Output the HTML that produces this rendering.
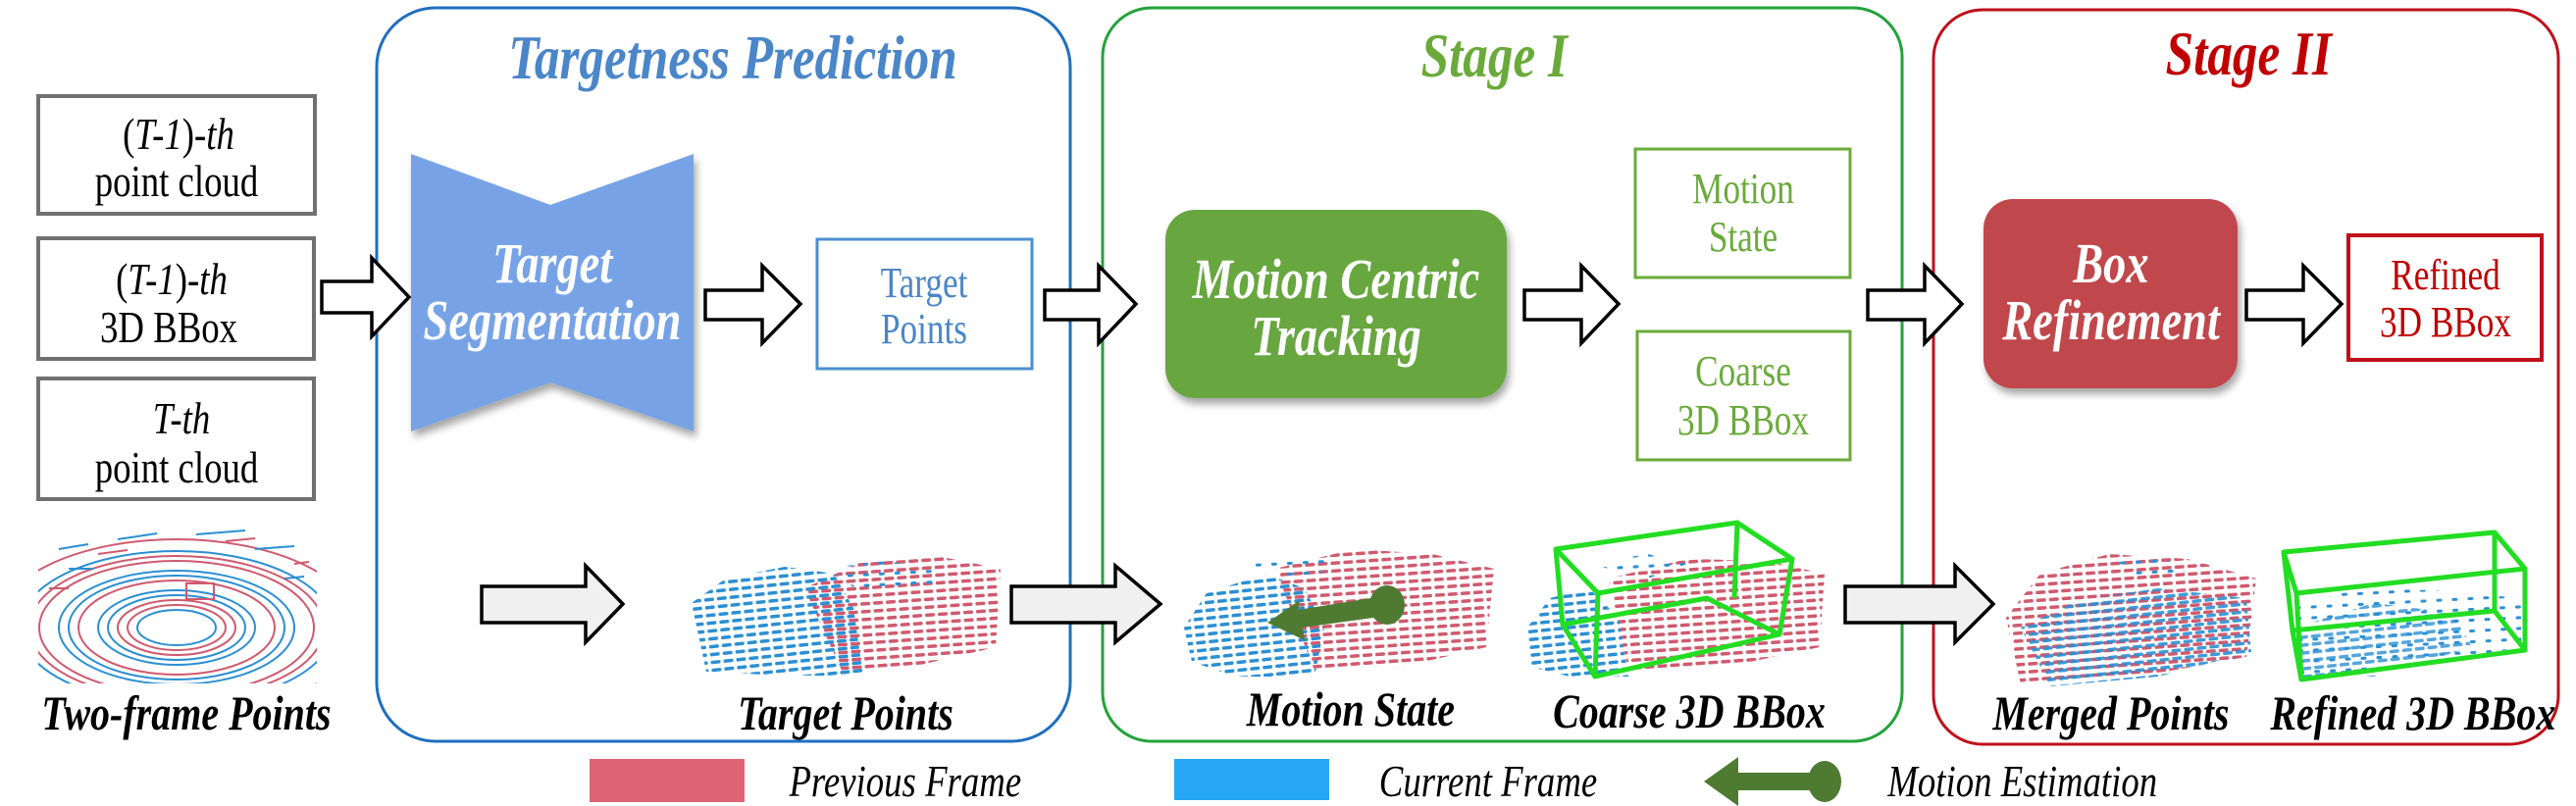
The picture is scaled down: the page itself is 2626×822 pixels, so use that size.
<!DOCTYPE html>
<html><head><meta charset="utf-8"><style>
html,body{margin:0;padding:0;background:#fff;width:2626px;height:822px;overflow:hidden}
svg{display:block}
text{font-family:"Liberation Serif",serif;transform-box:fill-box;transform-origin:center;transform:scaleX(0.8)}
.bi{font-weight:bold;font-style:italic}
</style></head><body>
<svg width="2626" height="822" viewBox="0 0 2626 822" xmlns="http://www.w3.org/2000/svg">
<defs>
<pattern id="pb" width="13" height="8" patternUnits="userSpaceOnUse" patternTransform="rotate(-6)"><rect x="0" y="2" width="10" height="3.5" rx="1.5" fill="#2b8fd3"/></pattern>
<pattern id="pr" width="13" height="8" patternUnits="userSpaceOnUse" patternTransform="rotate(-4)"><rect x="0" y="2" width="10" height="3.5" rx="1.5" fill="#cf5a6e"/></pattern>
<pattern id="pbs" width="16" height="11" patternUnits="userSpaceOnUse" patternTransform="rotate(-3)"><rect x="0" y="3" width="6" height="3" rx="1.5" fill="#2b8fd3"/></pattern>
<filter id="sh" x="-10%" y="-10%" width="130%" height="130%"><feDropShadow dx="3" dy="6" stdDeviation="4" flood-color="#000" flood-opacity="0.35"/></filter>
<clipPath id="c2f"><rect x="39" y="532" width="284" height="165"/></clipPath>
</defs>

<rect x="384" y="8" width="707" height="748" rx="60" fill="none" stroke="#1f6fbf" stroke-width="3"/>
<rect x="1124" y="8" width="815" height="748" rx="50" fill="none" stroke="#22a33a" stroke-width="3"/>
<rect x="1971" y="10" width="637" height="749" rx="50" fill="none" stroke="#c0101a" stroke-width="3"/>

<text x="747" y="80" text-anchor="middle" class="bi" font-size="64" fill="#4a86c8">Targetness Prediction</text>
<text x="1523" y="78" text-anchor="middle" class="bi" font-size="64" fill="#6aaa3a">Stage I</text>
<text x="2292" y="76" text-anchor="middle" class="bi" font-size="64" fill="#c00000">Stage II</text>

<g fill="#fff" stroke="#707070" stroke-width="4">
<rect x="39" y="98" width="282" height="120"/>
<rect x="39" y="243" width="281" height="123"/>
<rect x="39" y="386" width="281" height="123"/>
</g>
<g font-size="46" fill="#000" text-anchor="middle">
<text x="182" y="152">(<tspan font-style="italic">T-1</tspan>)-<tspan font-style="italic">th</tspan></text>
<text x="180" y="200">point cloud</text>
<text x="175" y="300">(<tspan font-style="italic">T-1</tspan>)-<tspan font-style="italic">th</tspan></text>
<text x="172" y="349">3D BBox</text>
<text x="185" y="442" font-style="italic">T-th</text>
<text x="180" y="492">point cloud</text>
</g>

<polygon points="419,157 561,209 707,157 707,440 561,390 419,440" fill="#77a3e6" filter="url(#sh)"/>
<text x="563" y="288" text-anchor="middle" class="bi" font-size="58" fill="#fff">Target</text>
<text x="563" y="346" text-anchor="middle" class="bi" font-size="58" fill="#fff">Segmentation</text>

<rect x="833" y="244" width="219" height="132" fill="none" stroke="#4a8fd0" stroke-width="3"/>
<text x="942" y="303" text-anchor="middle" font-size="44" fill="#4a86c8">Target</text>
<text x="942" y="350" text-anchor="middle" font-size="44" fill="#4a86c8">Points</text>

<rect x="1188" y="214" width="348" height="192" rx="30" fill="#67a640" filter="url(#sh)"/>
<text x="1362" y="304" text-anchor="middle" class="bi" font-size="58" fill="#fff">Motion Centric</text>
<text x="1362" y="362" text-anchor="middle" class="bi" font-size="58" fill="#fff">Tracking</text>

<rect x="1667" y="152" width="219" height="131" fill="none" stroke="#6aaa3a" stroke-width="3"/>
<text x="1777" y="207" text-anchor="middle" font-size="44" fill="#6aaa3a">Motion</text>
<text x="1777" y="256" text-anchor="middle" font-size="44" fill="#6aaa3a">State</text>
<rect x="1669" y="338" width="217" height="131" fill="none" stroke="#6aaa3a" stroke-width="3"/>
<text x="1777" y="393" text-anchor="middle" font-size="44" fill="#6aaa3a">Coarse</text>
<text x="1777" y="443" text-anchor="middle" font-size="44" fill="#6aaa3a">3D BBox</text>

<rect x="2022" y="203" width="259" height="193" rx="30" fill="#c0474b" filter="url(#sh)"/>
<text x="2152" y="288" text-anchor="middle" class="bi" font-size="58" fill="#fff">Box</text>
<text x="2152" y="346" text-anchor="middle" class="bi" font-size="58" fill="#fff">Refinement</text>

<rect x="2394" y="240" width="197" height="127" fill="none" stroke="#c0101a" stroke-width="4"/>
<text x="2493" y="295" text-anchor="middle" font-size="44" fill="#c00000">Refined</text>
<text x="2493" y="343" text-anchor="middle" font-size="44" fill="#c00000">3D BBox</text>

<g fill="#fff" stroke="#000" stroke-width="3.5" stroke-linejoin="miter">
<polygon points="328,287 379,287 379,263 417,303 379,343 379,319 328,319"/>
<polygon points="719,296 777,296 777,271 816,310 777,350 777,326 719,326"/>
<polygon points="1065,296 1120,296 1120,271 1158,310 1120,350 1120,326 1065,326"/>
<polygon points="1554,296 1612,296 1612,271 1650,310 1612,350 1612,326 1554,326"/>
<polygon points="1904,296 1962,296 1962,271 2000,310 1962,350 1962,326 1904,326"/>
<polygon points="2290,296 2348,296 2348,271 2387,310 2348,350 2348,326 2290,326"/>
</g>
<g fill="#f0f0f0" stroke="#000" stroke-width="3.5">
<polygon points="491,598 597,598 597,577 635,616 597,655 597,635 491,635"/>
<polygon points="1031,598 1137,598 1137,577 1183,616 1137,655 1137,635 1031,635"/>
<polygon points="1881,598 1993,598 1993,577 2032,616 1993,655 1993,635 1881,635"/>
</g>

<g clip-path="url(#c2f)" fill="none" stroke-width="2">
<ellipse cx="180" cy="640" rx="40" ry="18" stroke="#2b8fd3"/>
<ellipse cx="180" cy="640" rx="60" ry="28" stroke="#cf5a6e"/>
<ellipse cx="180" cy="640" rx="80" ry="38" stroke="#2b8fd3"/>
<ellipse cx="180" cy="640" rx="100" ry="48" stroke="#cf5a6e"/>
<ellipse cx="180" cy="640" rx="120" ry="58" stroke="#2b8fd3"/>
<ellipse cx="180" cy="640" rx="140" ry="68" stroke="#cf5a6e"/>
<ellipse cx="180" cy="640" rx="160" ry="78" stroke="#2b8fd3"/>
<ellipse cx="180" cy="640" rx="185" ry="90" stroke="#cf5a6e"/>
<ellipse cx="180" cy="640" rx="50" ry="23" stroke="#cf5a6e"/>
<ellipse cx="180" cy="640" rx="70" ry="33" stroke="#2b8fd3"/>
<ellipse cx="180" cy="640" rx="110" ry="53" stroke="#2b8fd3"/>
<ellipse cx="180" cy="640" rx="150" ry="73" stroke="#cf5a6e"/>
<rect x="190" y="595" width="28" height="16" stroke="#cf5a6e"/>
<path d="M60,560 l30,-5 M120,550 l40,-6 M200,545 l50,-4 M260,560 l40,-3 M70,580 l25,0 M290,590 l20,-2" stroke="#2b8fd3"/>
<path d="M100,565 l30,-4 M230,552 l30,-3 M300,575 l15,-2 M50,600 l20,0" stroke="#cf5a6e"/>
</g>
<text x="190" y="744" text-anchor="middle" class="bi" font-size="50">Two-frame Points</text>

<polygon points="820,600 880,572 960,568 1020,580 1015,660 930,680 860,688" fill="url(#pr)"/>
<polygon points="705,615 740,590 800,578 850,585 870,620 880,690 780,688 720,685" fill="url(#pb)"/>
<polygon points="840,580 900,572 960,580 950,600 880,605" fill="url(#pbs)"/>
<text x="862" y="744" text-anchor="middle" class="bi" font-size="50">Target Points</text>

<polygon points="1300,580 1380,560 1460,565 1523,580 1515,660 1430,680 1340,684" fill="url(#pr)"/>
<polygon points="1207,640 1230,605 1290,585 1330,600 1350,640 1340,690 1260,690 1215,675" fill="url(#pb)"/>
<polygon points="1270,575 1330,565 1370,578 1320,590" fill="url(#pbs)"/>
<g fill="#4f7a32">
<polygon points="1292,635 1325,612 1323,622 1410,608 1414,628 1328,640 1330,653"/>
<ellipse cx="1414" cy="617" rx="18" ry="20"/>
</g>
<text x="1377" y="740" text-anchor="middle" class="bi" font-size="50">Motion State</text>

<polygon points="1640,590 1720,570 1800,572 1860,585 1855,660 1760,680 1660,684" fill="url(#pr)"/>
<polygon points="1557,640 1580,610 1620,600 1650,630 1660,690 1600,690 1560,680" fill="url(#pb)"/>
<polygon points="1620,575 1680,565 1720,575 1680,590" fill="url(#pbs)"/>
<g fill="none" stroke="#22dd22" stroke-width="5" stroke-linejoin="round">
<polygon points="1586,560 1771,533 1827,570 1629,605"/>
<polygon points="1593,637 1740,610 1814,647 1626,690"/>
<path d="M1586,560 L1593,637 M1771,533 L1768,610 M1827,570 L1814,647 M1629,605 L1626,690"/>
</g>
<text x="1722" y="742" text-anchor="middle" class="bi" font-size="50">Coarse 3D BBox</text>

<polygon points="2045,630 2080,585 2150,565 2230,570 2300,590 2290,670 2180,690 2060,698" fill="url(#pr)"/>
<polygon points="2060,640 2120,612 2200,600 2290,610 2295,665 2200,690 2090,700" fill="url(#pb)" opacity="0.9"/>
<polygon points="2150,570 2200,565 2230,585 2180,590" fill="url(#pbs)"/>
<text x="2152" y="744" text-anchor="middle" class="bi" font-size="50">Merged Points</text>

<polygon points="2340,620 2400,600 2480,602 2570,610 2570,660 2460,680 2345,690" fill="url(#pbs)"/>
<polygon points="2340,640 2420,615 2500,625 2520,660 2420,690 2345,690" fill="url(#pb)" opacity="0.8"/>
<g fill="none" stroke="#22dd22" stroke-width="5" stroke-linejoin="round">
<polygon points="2328,563 2543,543 2574,580 2341,605"/>
<polygon points="2337,643 2543,623 2574,663 2346,693"/>
<path d="M2328,563 L2337,643 M2543,543 L2543,623 M2574,580 L2574,663 M2341,605 L2346,693"/>
</g>
<text x="2460" y="744" text-anchor="middle" class="bi" font-size="50">Refined 3D BBox</text>

<rect x="601" y="774" width="158" height="44" fill="#de6474"/>
<text x="775" y="812" font-style="italic" font-size="46">Previous Frame</text>
<rect x="1197" y="774" width="158" height="42" fill="#27a6f5"/>
<text x="1378" y="812" font-style="italic" font-size="46">Current Frame</text>
<g fill="#4f7a32">
<polygon points="1737,797 1772,772 1772,788 1860,788 1860,806 1772,806 1772,822"/>
<ellipse cx="1860" cy="797" rx="17" ry="21"/>
</g>
<text x="1890" y="812" font-style="italic" font-size="46">Motion Estimation</text>
</svg>
</body></html>
